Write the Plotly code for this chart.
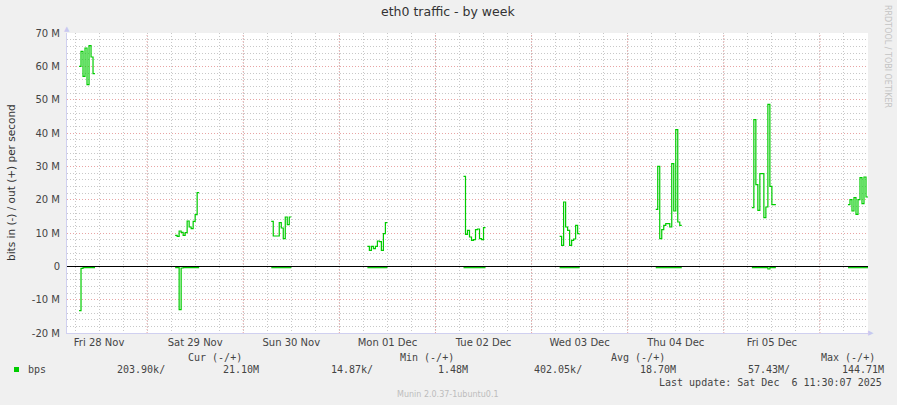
import plotly.graph_objects as go
import pandas as pd

# ---------------- data (Mbit/s, 30-minute samples) ----------------
burst_days = ["2025-11-28", "2025-11-29", "2025-11-30", "2025-12-01", "2025-12-02",
              "2025-12-03", "2025-12-04", "2025-12-05", "2025-12-06"]
burst_start_time = "07:00"
sample_minutes = 30

out_mbps = [
    [60.0, 64.5, 57.0, 65.5, 54.5, 66.2, 62.8, 57.8],
    [9.3, 9.0, 10.6, 10.2, 9.3, 10.1, 13.6, 11.8, 11.3, 13.5, 15.5, 22.1],
    [13.5, 9.1, 9.1, 9.1, 13.1, 11.5, 8.3, 14.8, 12.5, 14.8],
    [6.0, 4.8, 6.0, 5.3, 6.0, 7.6, 7.4, 4.8, 9.8, 13.1],
    [27.0, 9.6, 10.8, 8.8, 7.8, 8.0, 11.0, 11.2, 8.3, 8.0, 11.6],
    [9.0, 6.3, 19.3, 11.8, 10.8, 6.3, 7.8, 8.2, 12.3, 9.8],
    [17.1, 30.0, 8.3, 11.0, 12.3, 12.8, 12.8, 11.8, 30.8, 16.6, 41.0, 13.3, 12.3],
    [17.6, 44.0, 24.5, 16.8, 27.8, 27.8, 14.6, 17.8, 48.6, 24.0, 18.5, 18.5],
    [18.5, 20.0, 16.6, 20.6, 15.6, 20.0, 26.6, 18.8, 26.8, 20.8],
]
in_mbps = [
    [-13.3, -0.6, -0.4, -0.4, -0.4, -0.4, -0.4, -0.4],
    [-0.4, -0.4, -13.0, -0.5, -0.4, -0.4, -0.4, -0.4, -0.4, -0.4, -0.4, -0.4],
    [-0.4, -0.4, -0.4, -0.4, -0.4, -0.4, -0.4, -0.4, -0.4, -0.4],
    [-0.4, -0.4, -0.4, -0.4, -0.4, -0.4, -0.4, -0.4, -0.4, -0.4],
    [-0.4, -0.4, -0.4, -0.4, -0.4, -0.4, -0.4, -0.4, -0.4, -0.4, -0.4],
    [-0.4, -0.4, -0.4, -0.4, -0.4, -0.4, -0.4, -0.4, -0.4, -0.4],
    [-0.4, -0.4, -0.4, -0.4, -0.4, -0.4, -0.4, -0.4, -0.4, -0.4, -0.4, -0.4, -0.4],
    [-0.4, -0.4, -0.4, -0.4, -0.4, -0.4, -0.4, -0.4, -0.8, -0.4, -0.4, -0.4],
    [-0.4, -0.4, -0.4, -0.4, -0.4, -0.4, -0.4, -0.4, -0.4, -0.4],
]

x_tick_days = ["2025-11-28", "2025-11-29", "2025-11-30", "2025-12-01",
               "2025-12-02", "2025-12-03", "2025-12-04", "2025-12-05"]
x_tick_labels = ["Fri 28 Nov", "Sat 29 Nov", "Sun 30 Nov", "Mon 01 Dec",
                 "Tue 02 Dec", "Wed 03 Dec", "Thu 04 Dec", "Fri 05 Dec"]
y_tick_values_m = [-20, -10, 0, 10, 20, 30, 40, 50, 60, 70]
y_tick_labels = ["-20 M", "-10 M", "0", "10 M", "20 M", "30 M", "40 M", "50 M", "60 M", "70 M"]

legend_headers = ["Cur (-/+)", "Min (-/+)", "Avg (-/+)", "Max (-/+)"]
legend_values = ["203.90k/", "21.10M", "14.87k/", "1.48M", "402.05k/", "18.70M", "57.43M/", "144.71M"]
series_name = "bps"
last_update = "Last update: Sat Dec  6 11:30:07 2025"
footer = "Munin 2.0.37-1ubuntu0.1"
title = "eth0 traffic - by week"
y_title = "bits in (-) / out (+) per second"
x_range = ["2025-11-28 04:00", "2025-12-06 12:00"]

# ---------------- layout geometry ----------------
W, H = 897, 405
ML, MR, MT, MB = 67, 29, 33, 72
PW, PH = W - ML - MR, H - MT - MB
GREEN = "#00cc00"
RED_GRID = "#e8a4a4"
GRAY_GRID = "#c8c8c8"
DOTS = "1px,2px"


def px(xp):
    return (xp - ML) / PW


def py(yp):
    return (H - MB - yp) / PH


def build(series):
    xs, ys = [], []
    step = pd.Timedelta(minutes=sample_minutes)
    for day, vals in zip(burst_days, series):
        t0 = pd.Timestamp(f"{day} {burst_start_time}")
        for i, v in enumerate(vals + [vals[-1]]):
            xs.append(t0 + i * step)
            ys.append(v * 1e6)
        xs.append(None)
        ys.append(None)
    return xs, ys


fig = go.Figure()
for series in (out_mbps, in_mbps):
    xs, ys = build(series)
    fig.add_trace(go.Scatter(x=xs, y=ys, mode="lines", line=dict(color=GREEN, width=1.2, shape="hv"),
                             connectgaps=False, showlegend=False, hoverinfo="skip"))

# red midnight grid lines
shapes = []
for d in pd.date_range("2025-11-29", "2025-12-06", freq="1D"):
    shapes.append(dict(type="line", xref="x", yref="paper", x0=d, x1=d, y0=0, y1=1,
                       line=dict(color=RED_GRID, width=1, dash=DOTS), layer="below"))
# legend colour square
shapes.append(dict(type="rect", xref="paper", yref="paper", x0=px(14), x1=px(19), y0=py(372), y1=py(367),
                   fillcolor=GREEN, line=dict(width=0)))

mono = "DejaVu Sans Mono"
sans = "DejaVu Sans"
tc = "#444444"
ann = []


def text(s, x, y, xa="left", size=10, color=tc, family=mono, angle=0):
    ann.append(dict(text=s, x=px(x), y=py(y), xref="paper", yref="paper", xanchor=xa, yanchor="middle",
                    showarrow=False, textangle=angle, font=dict(family=family, size=size, color=color)))


text(title, 448, 12, xa="center", size=12.5, color="#333333", family=sans)
text(y_title, 11, 183, xa="center", size=10.5, color="#333333", family=sans, angle=-90)
text("RRDTOOL / TOBI OETIKER", 888, 56, xa="center", size=8, color="#c4c4c4", family=sans, angle=90)
text(legend_headers[0], 215, 357, xa="center")
text(legend_headers[1], 427, 357, xa="center")
text(legend_headers[2], 638, 357, xa="center")
text(legend_headers[3], 877, 357, xa="right")
text(series_name, 26, 369)
for s, xl in zip(legend_values, [115, 221, 329, 436, 532, 638, 746, 840]):
    text(s, xl, 369)
text(last_update, 884, 382, xa="right")
text(footer, 448, 394, xa="center", size=8, color="#bdbdbd", family=sans)
text("▲", 67, 29, xa="center", size=7, color="#c8c8f0", family=sans)
text("▶", 871, 333, xa="center", size=7, color="#c8c8f0", family=sans)

fig.update_layout(
    width=W, height=H, margin=dict(l=ML, r=MR, t=MT, b=MB, autoexpand=False),
    paper_bgcolor="#f0f0f0", plot_bgcolor="#ffffff",
    shapes=shapes, annotations=ann, showlegend=False,
    xaxis=dict(type="date", range=x_range, tickmode="array",
               tickvals=[pd.Timestamp(d + " 12:00") for d in x_tick_days], ticktext=x_tick_labels,
               showgrid=False, ticks="", showline=True, linecolor="#d0d0f0", linewidth=1,
               tickfont=dict(family=sans, size=10, color=tc), zeroline=False,
               minor=dict(tick0="2025-11-28 00:00", dtick=6 * 3600 * 1000, showgrid=True,
                          gridcolor=GRAY_GRID, griddash=DOTS, gridwidth=1, ticks="")),
    yaxis=dict(range=[-20e6, 70e6], tickmode="array", tickvals=[v * 1e6 for v in y_tick_values_m],
               ticktext=y_tick_labels, showgrid=True, gridcolor=RED_GRID, griddash=DOTS, gridwidth=1,
               zeroline=True, zerolinecolor="#000000", zerolinewidth=1,
               showline=True, linecolor="#d0d0f0", linewidth=1, ticks="", ticklabelstandoff=4,
               tickfont=dict(family=sans, size=10, color=tc),
               minor=dict(dtick=2e6, showgrid=True, gridcolor=GRAY_GRID, griddash=DOTS, gridwidth=1, ticks="")),
)

fig.write_html("out.html", config={"displayModeBar": False, "staticPlot": True},
               post_script="document.body.style.margin='0';document.body.style.padding='0';")
